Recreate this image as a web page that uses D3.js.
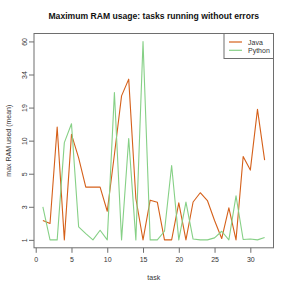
<!DOCTYPE html>
<html>
<head>
<meta charset="utf-8">
<script src="https://cdn.jsdelivr.net/npm/d3@7"></script>
<style>
  body { margin: 0; background: #fff; }
  text { font-family: "Liberation Sans", Arial, sans-serif; }
</style>
</head>
<body>
<div id="rootDiv"></div>
<script>
const tasks = d3.range(1, 33)
const java = [2.17, 1.99, 13.7, 1, 11.7, 7.4, 4.19, 4.2, 4.19, 2.73, 7.9, 24.3, 31.9, 3.5, 1, 3.4,
    3.28, 1, 1, 3.24, 1, 3.29, 3.85, 3.38, 2.17, 1.08, 2.94, 1, 7.6, 5.55, 18.5, 7.06]
const python = [3, 1, 1, 9.7, 14.6, 1.79, 1.38, 1, 1.58, 1, 25.8, 1, 10.6, 1, 60, 1,
    1, 1.52, 6.25, 1, 3.28, 1.05, 1, 1, 1.12, 1.52, 1, 3.66, 1.02, 1.05, 1, 1.14]
const yTicks = [1, 3, 5, 10, 19, 34, 60]
const xTicks = [0, 5, 10, 15, 20, 25, 30]
const seriesNames = ["Java", "Python"]
const colors = ["#d5601a", "#86d086"]

const width = 291
const height = 291
const box = { left: 34, right: 273.5, top: 33.5, bottom: 247.8 }
const axisColor = "#6e6e6e"

const svg = d3.select("#rootDiv")
    .append("svg")
    .attr("width", width)
    .attr("height", height)

// R style 4% padding on x
const x = d3.scaleLinear()
    .domain([1 - 31 * 0.04, 32 + 31 * 0.04])
    .range([box.left, box.right])

// y ticks are evenly spaced: map values onto tick levels, then onto pixels
const level = d3.scaleLinear()
    .domain(yTicks)
    .range(d3.range(yTicks.length))
const yLevel = d3.scaleLinear()
    .domain([-0.24, 6.24])
    .range([box.bottom, box.top])
const y = v => yLevel(level(v))

const line = d3.line()
    .x((_d, i) => x(tasks[i]))
    .y(d => y(d))

// Lines
const all = [java, python]
all.forEach((s, k) => {
    svg.append("path")
        .datum(s)
        .attr("fill", "none")
        .attr("stroke", colors[k])
        .attr("stroke-width", 1.1)
        .attr("stroke-linejoin", "round")
        .attr("d", line)
})

// Box
svg.append("rect")
    .attr("x", box.left)
    .attr("y", box.top)
    .attr("width", box.right - box.left)
    .attr("height", box.bottom - box.top)
    .attr("fill", "none")
    .attr("stroke", axisColor)

// X-axis
const xAxis = svg.append("g")
    .attr("transform", `translate(0,${box.bottom})`)
    .call(d3.axisBottom(x).tickValues(xTicks).tickSize(5).tickSizeOuter(0).tickPadding(4))

// Y-axis
const yAxisScale = d3.scaleLinear().domain(yLevel.domain()).range(yLevel.range())
const yAxis = svg.append("g")
    .attr("transform", `translate(${box.left},0)`)
    .call(d3.axisLeft(yAxisScale)
        .tickValues(d3.range(yTicks.length))
        .tickFormat(i => yTicks[i])
        .tickSize(5).tickSizeOuter(0))

for (const axis of [xAxis, yAxis]) {
    axis.select(".domain").remove()
    axis.selectAll("line").style("stroke", axisColor)
    axis.selectAll("text")
        .style("fill", "#333")
        .style("font-size", "7px")
        .style("font-family", "'Liberation Sans', Arial, sans-serif")
}
yAxis.selectAll(".tick text")
    .attr("x", null).attr("dy", null)
    .attr("text-anchor", "middle")
    .attr("transform", "translate(-10,0) rotate(-90) translate(0,2.5)")

// Titles
svg.append("text")
    .attr("x", (box.left + box.right) / 2)
    .attr("y", 19)
    .attr("text-anchor", "middle")
    .attr("font-weight", "bold")
    .attr("font-size", "8.6px")
    .attr("fill", "#111")
    .text("Maximum RAM usage: tasks running without errors")

svg.append("text")
    .attr("x", (box.left + box.right) / 2)
    .attr("y", 280)
    .attr("text-anchor", "middle")
    .attr("font-size", "7px")
    .attr("fill", "#333")
    .text("task")

svg.append("text")
    .attr("transform", `translate(11,${(box.top + box.bottom) / 2}) rotate(-90)`)
    .attr("text-anchor", "middle")
    .attr("font-size", "7px")
    .attr("fill", "#333")
    .text("max RAM used (mean)")

// Legend
const legend = svg.append("g")
svg.append("rect")
    .attr("x", 224)
    .attr("y", box.top)
    .attr("width", box.right - 224)
    .attr("height", 25)
    .attr("fill", "#fff")
    .attr("stroke", axisColor)
seriesNames.forEach((name, k) => {
    const ly = 42 + k * 8.3
    svg.append("line")
        .attr("x1", 229).attr("x2", 242)
        .attr("y1", ly).attr("y2", ly)
        .attr("stroke", colors[k])
        .attr("stroke-width", 1.2)
    svg.append("text")
        .attr("x", 248)
        .attr("y", ly + 2.5)
        .attr("font-size", "7px")
        .attr("fill", "#333")
        .text(name)
})
</script>
</body>
</html>
